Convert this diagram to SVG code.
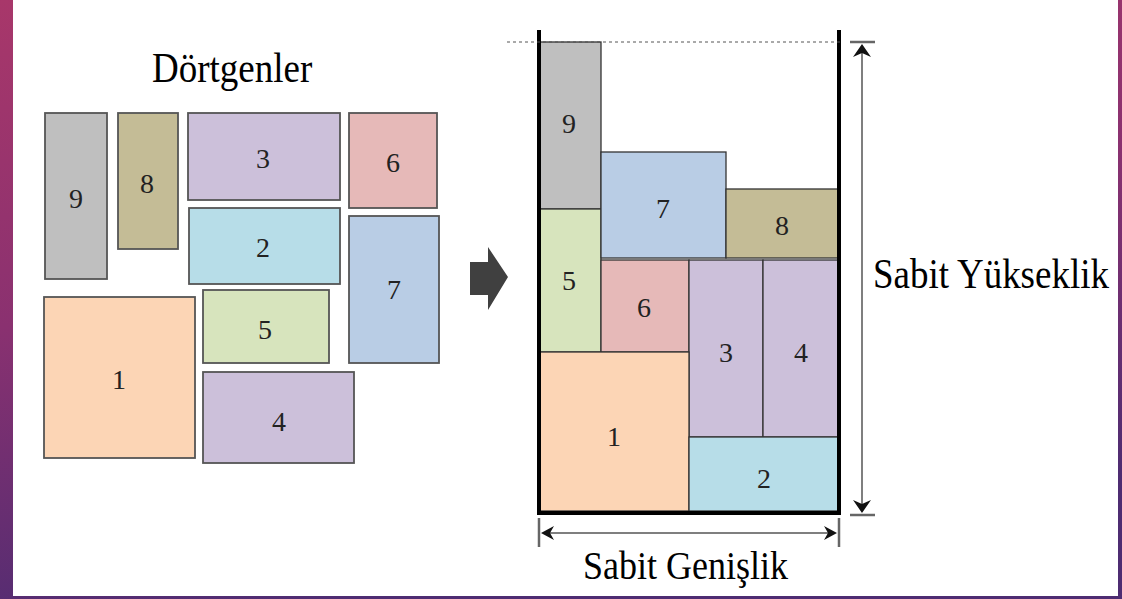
<svg xmlns="http://www.w3.org/2000/svg" width="1122" height="599" viewBox="0 0 1122 599">
<defs>
<linearGradient id="bg" x1="0" y1="0" x2="0.3" y2="1">
<stop offset="0" stop-color="#a8376a"/>
<stop offset="0.5" stop-color="#8a3170"/>
<stop offset="1" stop-color="#4e2c72"/>
</linearGradient>
<style>
.l rect{stroke:#555;stroke-width:1.8}
.r rect{stroke:#333;stroke-width:1.3}
.n{font-family:"Liberation Serif","Times New Roman",serif;font-size:28px;fill:#222;text-anchor:middle}
.t{font-family:"Liberation Serif","Times New Roman",serif;font-size:37px;fill:#000}
.g9{fill:#bfbfbf}.g8{fill:#c4bc96}.g3{fill:#ccc0da}.g6{fill:#e6b9b8}.g2{fill:#b7dde8}.g7{fill:#b9cde5}.g5{fill:#d7e4bd}.g1{fill:#fcd5b5}
.dim{stroke:#555;stroke-width:1.5;fill:none}
.tick{stroke:#666;stroke-width:2.5}
.head{fill:#111}
.wall{stroke:#000;stroke-width:4;fill:none}
</style>
</defs>
<rect x="0" y="0" width="1122" height="599" fill="url(#bg)"/>
<rect x="13" y="0" width="1105" height="596" fill="#fff"/>

<text class="t" transform="translate(152,82) scale(1,1.13)">Dörtgenler</text>

<g class="l">
<g id="l9"><rect class="g9" x="45" y="113" width="62" height="166"/><text class="n" x="76" y="208">9</text></g>
<g id="l8"><rect class="g8" x="118" y="113" width="60" height="136"/><text class="n" x="147" y="193">8</text></g>
<g id="l3"><rect class="g3" x="188" y="113" width="152" height="87"/><text class="n" x="263" y="168">3</text></g>
<g id="l2"><rect class="g2" x="189" y="208" width="151" height="76"/><text class="n" x="263" y="257">2</text></g>
<g id="l6"><rect class="g6" x="349" y="113" width="88" height="95"/><text class="n" x="393" y="172">6</text></g>
<g id="l7"><rect class="g7" x="349" y="216" width="90" height="147"/><text class="n" x="394" y="299">7</text></g>
<g id="l1"><rect class="g1" x="44" y="297" width="151" height="161"/><text class="n" x="119" y="389">1</text></g>
<g id="l5"><rect class="g5" x="203" y="290" width="126" height="73"/><text class="n" x="265" y="339">5</text></g>
<g id="l4"><rect class="g3" x="203" y="372" width="151" height="91"/><text class="n" x="279" y="431">4</text></g>
</g>

<g id="arrow"><path d="M470,262 H488 V247 L508,277 L488,310 V295 H470 Z" fill="#404040"/></g>

<g class="r">
<g id="r9"><rect class="g9" x="539" y="42" width="62" height="167"/><text class="n" x="569" y="133">9</text></g>
<g id="r5"><rect class="g5" x="539" y="209" width="62" height="143"/><text class="n" x="569" y="290">5</text></g>
<g id="r7"><rect class="g7" x="601" y="152" width="125" height="106"/><text class="n" x="663" y="218">7</text></g>
<g id="r8"><rect class="g8" x="726" y="189" width="113" height="69"/><text class="n" x="782" y="235">8</text></g>
<g id="r6"><rect class="g6" x="601" y="260" width="88" height="92"/><text class="n" x="644" y="317">6</text></g>
<g id="r3"><rect class="g3" x="689" y="260" width="74" height="177"/><text class="n" x="726" y="362">3</text></g>
<g id="r4"><rect class="g3" x="763" y="260" width="76" height="177"/><text class="n" x="801" y="362">4</text></g>
<g id="r1"><rect class="g1" x="539" y="352" width="150" height="159"/><text class="n" x="614" y="446">1</text></g>
<g id="r2"><rect class="g2" x="689" y="437" width="150" height="74"/><text class="n" x="764" y="488">2</text></g>
</g>

<g id="container">
<path class="wall" d="M539,30 V513 H839 V30"/>
<line x1="507" y1="42" x2="842" y2="42" stroke="#555" stroke-width="1" stroke-dasharray="3,3"/>
</g>

<g id="connectors">
<line class="tick" x1="539" y1="518" x2="539" y2="547"/>
<line class="tick" x1="839" y1="518" x2="839" y2="547"/>
<line class="dim" x1="545" y1="533" x2="833" y2="533"/>
<path class="head" d="M541,533 L554,526 L550,533 L554,540 Z"/>
<path class="head" d="M837,533 L824,526 L828,533 L824,540 Z"/>
<line class="tick" x1="850" y1="42" x2="875" y2="42"/>
<line class="tick" x1="850" y1="515" x2="875" y2="515"/>
<line class="dim" x1="862" y1="48" x2="862" y2="509"/>
<path class="head" d="M862,44 L853,57 L862,53 L871,57 Z"/>
<path class="head" d="M862,513 L853,500 L862,504 L871,500 Z"/>
</g>

<text class="t" transform="translate(873,288) scale(1,1.13)">Sabit Yükseklik</text>
<text class="t" style="font-size:36px" transform="translate(583,579) scale(1,1.13)">Sabit Genişlik</text>
</svg>
